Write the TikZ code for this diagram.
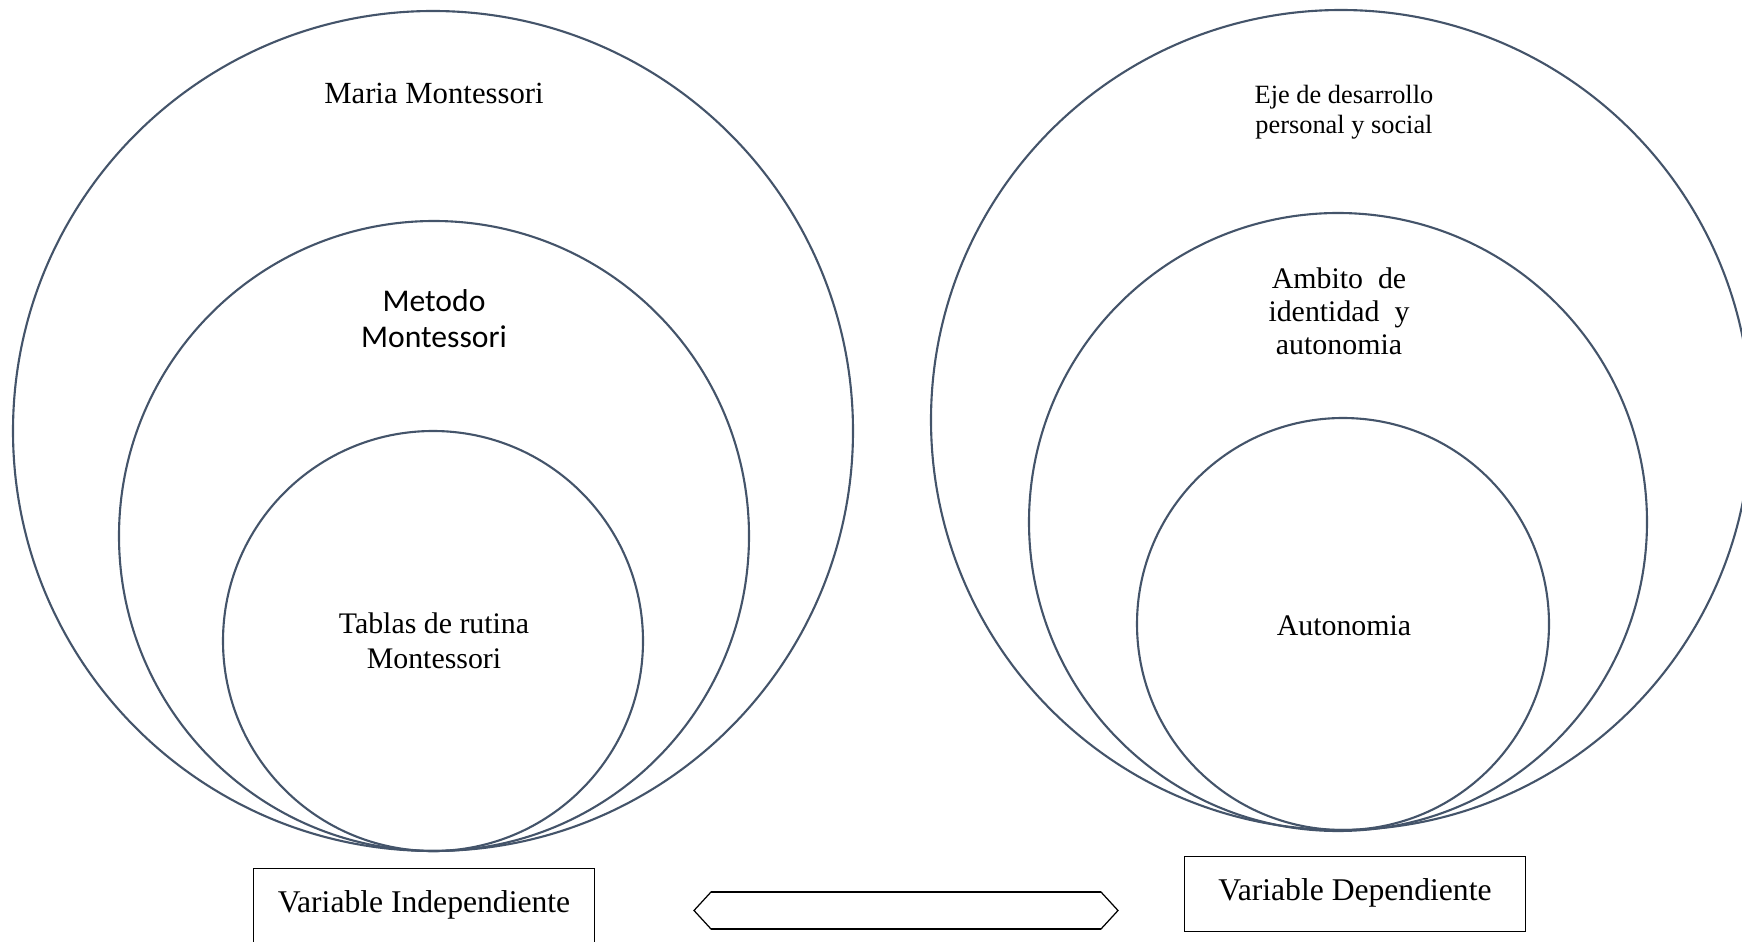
\documentclass[tikz,border=0pt]{standalone}
\usepackage{fontspec}
\setmainfont{Liberation Serif}
\newfontfamily\calibrifont{Carlito}
\usetikzlibrary{positioning}

\definecolor{ringcol}{HTML}{44546A}

\tikzset{
	ring/.style={draw=ringcol,line width=1.2pt},
	ringtext/.style={align=center,inner sep=0pt,font=\fontsize{17}{20}\selectfont},
	varbox/.style={draw=black,line width=0.6pt,anchor=north,minimum width=6.82cm,
		text height=13pt,inner ysep=12.3pt,font=\fontsize{18}{21}\selectfont},
	hexline/.style={draw=black,line width=0.7pt}
}

\begin{document}
\begin{tikzpicture}[x=0.02cm,y=-0.02cm]
	\clip (0,0) rectangle (1742,942);
	% variable independiente
	\draw[ring] (433,431) circle (420);
	\draw[ring] (434,536) circle (315);
	\draw[ring] (433,641) circle (210);
	\node[ringtext,font=\fontsize{17.5}{20}\selectfont] (maria) at (434,93) {Maria Montessori};
	\node[ringtext,font=\calibrifont\fontsize{18}{20.5}\selectfont] (metodo) at (434,319) {Metodo\\Montessori};
	\node[ringtext] (tablas) at (434,641) {Tablas de rutina\\Montessori};
	% variable dependiente
	\draw[ring] (1341,420) circle (410);
	\draw[ring] (1338,522) circle (309);
	\draw[ring] (1343,624) circle (206);
	\node[ringtext,font=\fontsize{15}{17}\selectfont] (eje) at (1344,112) {Eje de desarrollo\\personal y social};
	\node[ringtext,font=\fontsize{17}{18.8}\selectfont] (ambito) at (1339,311) {Ambito\ \ de\\identidad\ \ y\\autonomia};
	\node[ringtext] (auto) at (1344,626) {Autonomia};
	% cajas
	\node[varbox,text depth=40pt] (indep) at (424,868) {Variable Independiente};
	\node[varbox,text depth=5.3pt] (dep) at (1355,855.5) {Variable Dependiente};
	% flecha doble
	\coordinate (arrL) at (694,910.5);
	\coordinate (arrR) at (1118,910.5);
	\draw[hexline] (arrL) -- (711,892) -- (1101,892) -- (arrR) -- (1101,929) -- (711,929) -- cycle;
	\draw[line width=1.2pt] (711,892) -- (1101,892);
	\draw[line width=1.2pt] (711,929) -- (1101,929);
\end{tikzpicture}
\end{document}
